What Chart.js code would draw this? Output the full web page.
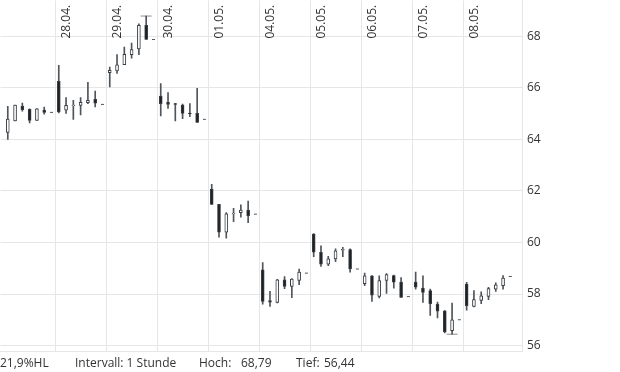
<!DOCTYPE html>
<html>
<head>
<meta charset="utf-8">
<script src="https://cdn.jsdelivr.net/npm/chart.js@4.4.0/dist/chart.umd.min.js"></script>
<style>
  html, body { margin: 0; padding: 0; background: #fff; }
  #wrap { position: relative; width: 620px; height: 372px; overflow: hidden; font-family: 'Open Sans', sans-serif; font-size: 12px; color: #333; }
  /* the point datasets make Chart.js reserve 6px round the plot, so the canvas is pushed out by that much */
  #box { position: absolute; left: -6px; top: -6px; width: 626px; height: 364px; }
  .info { position: absolute; top: 355px; white-space: pre; line-height: 16px; }
</style>
</head>
<body>
<div id="wrap">
  <div id="box"><canvas id="kursChart"></canvas></div>
  <span class="info" style="left:0px">21,9%HL</span>
  <span class="info" style="left:75px">Intervall: 1 Stunde</span>
  <span class="info" style="left:199px">Hoch:</span>
  <span class="info" style="left:241px">68,79</span>
  <span class="info" style="left:296px">Tief:</span>
  <span class="info" style="left:324px">56,44</span>
</div>
<script>
// trading days, 6 hourly candles each + a short closing dash
const days = ['27.04.', '28.04.', '29.04.', '30.04.', '01.05.', '04.05.', '05.05.', '06.05.', '07.05.', '08.05.'];

const opens = [
  64.27, 64.72, 65.30, 65.17, 64.74, 65.14,
  66.26, 65.14, 65.31, 65.32, 65.43, 65.56,
  66.59, 66.66, 66.90, 67.29, 67.51, 68.43,
  65.68, 65.44, 65.39, 65.33, 65.02, 65.01,
  62.07, 61.48, 60.40, 61.12, 61.16, 61.26,
  58.94, 57.74, 57.67, 58.55, 58.29, 58.53,
  60.33, 59.62, 59.16, 59.36, 59.70, 59.72,
  58.40, 58.71, 57.91, 58.53, 58.72, 58.46,
  58.46, 58.23, 58.13, 57.61, 57.35, 56.58,
  58.39, 57.52, 57.75, 57.91, 58.19, 58.32
];
const highs = [
  65.29, 65.33, 65.41, 65.19, 65.20, 65.26,
  66.88, 65.63, 65.52, 65.63, 66.22, 65.88,
  66.81, 67.29, 67.59, 67.74, 68.49, 68.79,
  66.17, 65.82, 65.40, 65.37, 65.39, 65.98,
  62.26, 61.48, 61.16, 61.33, 61.46, 61.61,
  59.22, 58.10, 58.57, 58.68, 58.60, 58.97,
  60.35, 59.87, 59.46, 59.75, 59.81, 59.75,
  58.81, 58.72, 58.71, 58.79, 58.73, 58.64,
  58.85, 58.71, 58.19, 57.69, 57.36, 57.65,
  58.45, 58.13, 58.08, 58.26, 58.43, 58.72
];
const lows = [
  64.00, 64.72, 65.10, 64.64, 64.74, 64.98,
  65.03, 65.01, 64.78, 64.95, 65.39, 65.26,
  66.04, 66.56, 66.90, 67.16, 67.29, 67.88,
  64.91, 65.20, 64.72, 64.81, 64.88, 64.66,
  61.48, 60.21, 60.17, 60.81, 60.98, 60.77,
  57.61, 57.52, 57.65, 58.21, 57.86, 58.36,
  59.45, 59.07, 59.10, 59.26, 59.45, 58.85,
  58.32, 57.71, 57.85, 58.02, 58.23, 57.87,
  58.19, 57.67, 57.17, 57.07, 56.49, 56.44,
  57.37, 57.50, 57.62, 57.78, 58.10, 58.19
];
const closes = [
  64.79, 65.33, 65.16, 64.74, 65.19, 65.05,
  65.07, 65.32, 65.33, 65.44, 65.52, 65.41,
  66.68, 66.90, 67.30, 67.49, 68.43, 67.88,
  65.39, 65.36, 65.36, 65.01, 65.00, 64.66,
  61.48, 60.40, 61.11, 61.14, 61.26, 61.04,
  57.71, 57.68, 58.55, 58.29, 58.58, 58.85,
  59.62, 59.16, 59.37, 59.68, 59.73, 58.97,
  58.71, 57.95, 58.52, 58.75, 58.46, 57.87,
  58.27, 58.06, 57.62, 57.33, 56.53, 57.00,
  57.55, 57.78, 57.93, 58.21, 58.36, 58.62
];
const dayClose = [65.05, 65.36, 67.88, 64.78, 61.10, 58.81, 58.97, 57.90, 57.00, 58.68];

const yTicks = [56, 58, 60, 62, 64, 66, 68];
const periodHigh = 68.79;
const periodLow = 56.44;

// x position of a candle: 7 slots per day
const slotOf = i => 7 * Math.floor(i / 6) + (i % 6);

const wicks = opens.map((o, i) => ({ x: slotOf(i), y: [lows[i], highs[i]] }));
const bodies = opens.map((o, i) => ({ x: slotOf(i), y: [o, closes[i]] }));
const bodyColors = opens.map((o, i) => closes[i] >= o ? '#ffffff' : '#1e2124');
const dashes = dayClose.map((v, d) => ({ x: 7 * d + 6, y: v }));
const extremes = [
  { x: slotOf(highs.indexOf(periodHigh)), y: periodHigh },
  { x: slotOf(lows.indexOf(periodLow)), y: periodLow }
];

const gridColor = '#e6e6e6';

const dayLabels = {
  id: 'dayLabels',
  afterDatasetsDraw(chart) {
    const ctx = chart.ctx;
    const xs = chart.scales.x;
    const top = chart.chartArea.top;
    ctx.save();
    ctx.font = "12px 'Open Sans'";
    ctx.fillStyle = '#333';
    ctx.textBaseline = 'alphabetic';
    ctx.textAlign = 'left';
    days.forEach((d, i) => {
      if (i === 0) return;
      const px = xs.getPixelForValue(7 * i - 0.5);
      ctx.save();
      ctx.translate(px + 14.5, top + 38);
      ctx.rotate(-Math.PI / 2);
      ctx.fillText(d, 0, 0);
      ctx.restore();
    });
    ctx.restore();
  }
};

Chart.defaults.font.family = "'Open Sans', sans-serif";
Chart.defaults.font.size = 12;
Chart.defaults.color = '#333';

new Chart(document.getElementById('kursChart'), {
  type: 'bar',
  data: {
    datasets: [
      {
        type: 'line',
        data: extremes,
        showLine: false,
        pointStyle: 'line',
        pointRadius: 5.5,
        pointHoverRadius: 0,
        pointBorderWidth: 1,
        borderColor: '#8c8c8c',
        order: 3
      },
      {
        data: wicks,
        grouped: false,
        barThickness: 1,
        backgroundColor: '#4f555a',
        borderWidth: 0,
        order: 2
      },
      {
        data: bodies,
        grouped: false,
        barThickness: 3,
        backgroundColor: bodyColors,
        borderColor: '#3a3f44',
        borderWidth: 1,
        borderSkipped: false,
        order: 1
      },
      {
        type: 'line',
        data: dashes,
        showLine: false,
        pointStyle: 'line',
        pointRadius: 1.5,
        pointHoverRadius: 0,
        pointBorderWidth: 1,
        borderColor: '#4f555a',
        order: 0
      }
    ]
  },
  options: {
    responsive: true,
    maintainAspectRatio: false,
    animation: false,
    layout: { padding: 0 },
    plugins: { legend: { display: false }, tooltip: { enabled: false } },
    scales: {
      x: {
        type: 'linear',
        offset: false,
        min: -1.0,
        max: 70.6,
        ticks: { display: false },
        grid: { color: gridColor, drawTicks: false, offset: false },
        border: { color: gridColor },
        afterBuildTicks: s => { s.ticks = days.slice(1).map((d, i) => ({ value: 7 * (i + 1) - 0.5 })); },
        afterFit: s => { s.height = 0; s.paddingLeft = 0; s.paddingRight = 0; }
      },
      y: {
        position: 'right',
        min: 55.768,
        max: 69.394,
        ticks: { padding: 5, color: '#333' },
        grid: { color: gridColor, drawTicks: false },
        border: { color: gridColor },
        afterBuildTicks: s => { s.ticks = yTicks.map(v => ({ value: v })); },
        afterFit: s => { s.width = 98; s.paddingTop = 0; s.paddingBottom = 0; }
      }
    }
  },
  plugins: [dayLabels]
});
</script>
</body>
</html>
